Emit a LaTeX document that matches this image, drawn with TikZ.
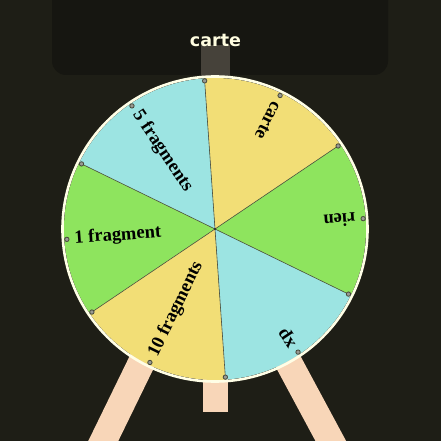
\documentclass[tikz,border=0pt]{standalone}
\usepackage{fontspec}
\setmainfont{Liberation Serif}
\newfontfamily\titrefont{DejaVu Sans}
\usetikzlibrary{positioning,calc}
\definecolor{fond}{RGB}{30,30,22}
\definecolor{bandeau}{RGB}{22,22,17}
\definecolor{jaune}{RGB}{242,222,118}
\definecolor{bleuclair}{RGB}{156,228,226}
\definecolor{vert}{RGB}{142,228,94}
\definecolor{pied}{RGB}{248,214,184}
\definecolor{trait}{RGB}{80,84,66}
\definecolor{repere}{RGB}{70,66,58}
\definecolor{clouteint}{RGB}{70,72,58}

\begin{document}
\begin{tikzpicture}[x=1pt, y=-1pt,
  secteur/.style={draw=trait, line width=0.6pt},
  etiquette/.style={anchor=west, inner sep=0pt, text=black,
                    font=\bfseries\fontsize{18.5}{18.5}\selectfont},
  clou/.style={draw=clouteint, fill=clouteint!55!white, line width=0.8pt},
  jambe/.style={draw=pied, line width=27pt}]
  \useasboundingbox (0,0) rectangle (441,441);
  \fill[fond] (0,0) rectangle (441,441);
  \fill[bandeau, rounded corners=14pt] (52,-20) rectangle (388,75);
  % pointer and title
  \fill[repere] (201,45) rectangle (230,78);
  \node[anchor=base, inner sep=0pt, text=white!88!yellow,
        font=\titrefont\bfseries\fontsize{17.5}{17.5}\selectfont] (titre) at (215.5,47) {carte};
  % stand
  \draw[jambe] (172,300) -- (94,460);
  \draw[jambe] (255,300) -- (341,460);
  \fill[pied] (203,350) rectangle (228,412);
  % wheel
  \begin{scope}[shift={(215,229)}, y=1pt]
    \coordinate (centre) at (0,0);
    \foreach \debut/\coul in {34/jaune,94/bleuclair,154/vert,214/jaune,274/bleuclair,334/vert}
      \fill[\coul] (centre) -- (\debut:151) arc[start angle=\debut, end angle=\debut+60, radius=151] -- cycle;
    \draw[white!90!yellow, line width=2.6pt] (centre) circle[radius=152.5];
    \foreach \a in {34,94,...,334}
      \draw[secteur] (centre) -- (\a:150);
    \foreach \a in {4,34,...,334}
      \draw[clou] (\a:148.5) circle[radius=2.2];
    \fill[black!80] (centre) circle[radius=1.4];
    \node[etiquette, rotate=184] (rien) at (4:141) {rien};
    \node[etiquette, rotate=244] (carte) at (64:141) {carte};
    \node[etiquette, rotate=304] (cinq) at (124:141) {5 fragments};
    \node[etiquette, rotate=4] (un) at (184:141) {1 fragment};
    \node[etiquette, rotate=64] (dix) at (244:141) {10 fragments};
    \node[etiquette, rotate=124] (xp) at (304:141) {xp};
  \end{scope}
\end{tikzpicture}
\end{document}
